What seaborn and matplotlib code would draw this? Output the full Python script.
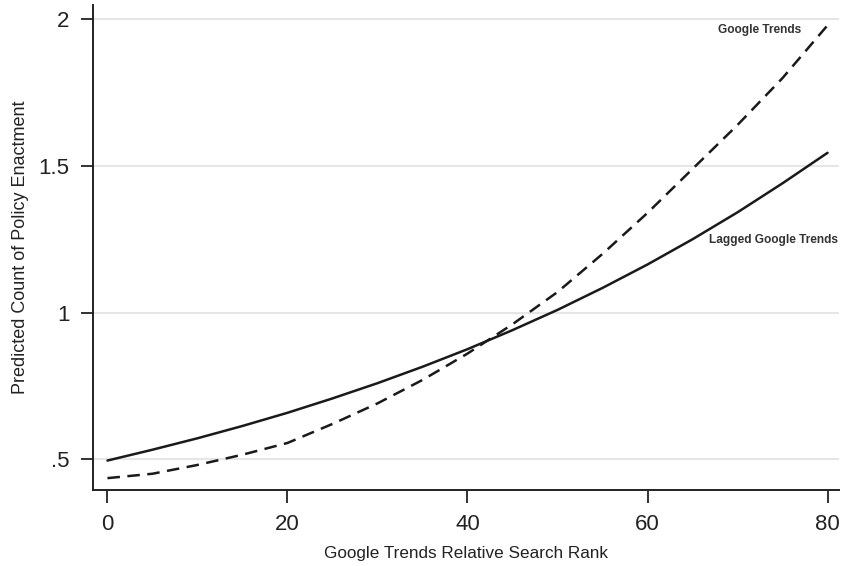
import pandas as pd
import matplotlib
matplotlib.use("Agg")
import matplotlib.pyplot as plt
import seaborn as sns

# search rank on x
rank = [0, 5, 10, 15, 20, 25, 30, 35, 40, 45, 50, 55, 60, 65, 70, 75, 80]

# predicted counts
google_trends = [0.435, 0.45, 0.48, 0.515, 0.555, 0.62, 0.69, 0.77, 0.86,
                 0.96, 1.07, 1.20, 1.34, 1.49, 1.64, 1.80, 1.98]
lagged_trends = [0.495, 0.532, 0.571, 0.613, 0.658, 0.707, 0.759, 0.815, 0.875,
                 0.940, 1.009, 1.084, 1.164, 1.250, 1.342, 1.441, 1.545]

x_ticks = [0, 20, 40, 60, 80]
y_ticks = [0.5, 1, 1.5, 2]
y_tick_labels = [".5", "1", "1.5", "2"]

sns.set_style("ticks")
plt.rcParams['font.family'] = ['Liberation Sans', 'DejaVu Sans']

df = pd.DataFrame({'rank': rank, 'gt': google_trends, 'lag': lagged_trends})

fig = plt.figure(figsize=(8.46, 5.66), dpi=100)
ax = fig.add_axes([0.110, 0.134, 0.882, 0.857])

sns.lineplot(x='rank', y='lag', data=df, color='#1a1a1a', linewidth=1.8, ax=ax)
sns.lineplot(x='rank', y='gt', data=df, color='#1a1a1a', linewidth=1.8,
             linestyle=(0, (5, 3)), ax=ax)

ax.set_xlim(-1.6, 81.3)
ax.set_ylim(0.394, 2.049)
ax.set_xticks(x_ticks)
ax.set_yticks(y_ticks)
ax.set_yticklabels(y_tick_labels)
ax.tick_params(axis='both', labelsize=16, length=9, width=1.3, direction='out',
               color='#222222', labelcolor='#222222')
ax.tick_params(axis='x', pad=8)
ax.tick_params(axis='y', pad=8)
ax.yaxis.grid(True, color='#e6e6e6', linewidth=1.5)
ax.set_axisbelow(True)

for side in ['top', 'right']:
    ax.spines[side].set_visible(False)
for side in ['left', 'bottom']:
    ax.spines[side].set_linewidth(1.4)
    ax.spines[side].set_color('#222222')

ax.set_xlabel('Google Trends Relative Search Rank', fontsize=12.3, color='#222222', labelpad=8)
ax.set_ylabel('Predicted Count of Policy Enactment', fontsize=13, color='#222222', labelpad=7)

ax.text(67.8, 1.965, 'Google Trends', fontsize=8.6, fontweight='bold',
        color='#333333', va='center', ha='left')
ax.text(66.8, 1.247, 'Lagged Google Trends', fontsize=8.6, fontweight='bold',
        color='#333333', va='center', ha='left')

fig.savefig('out.png', dpi=100)
